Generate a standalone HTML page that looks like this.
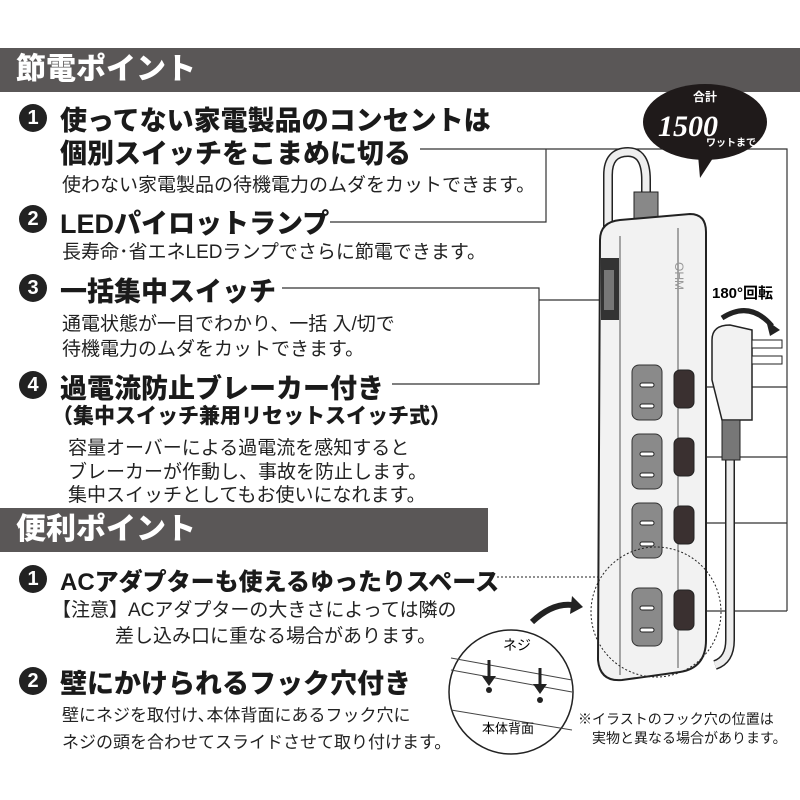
<!DOCTYPE html>
<html><head><meta charset="utf-8"><style>
body{margin:0;width:800px;height:800px;background:#fff;position:relative;overflow:hidden;font-family:"Liberation Sans","Noto Sans CJK JP",sans-serif;color:#1a1a1a}
.t{position:absolute;white-space:nowrap}
.h{position:absolute;background:#5a5757;color:#fff;font-weight:900;font-size:30px;padding-left:16px;box-sizing:border-box;line-height:44px}
.b{font-weight:900;font-size:27px}
.s{font-size:19px;color:#222}
.n{position:absolute;width:28px;height:28px;border-radius:50%;background:#222;color:#fff;font-weight:900;font-size:20px;text-align:center;line-height:28px}
svg{position:absolute;left:0;top:0}
</style></head><body>
<div class="h" style="left:0;top:48px;width:800px;height:44px">節電ポイント</div>
<div class="h" style="left:0;top:508px;width:488px;height:44px">便利ポイント</div>

<svg width="800" height="800">
<g stroke="#333" stroke-width="1.2" fill="none">
<path d="M420 149H787V611M546 149V222H330M787 387H690M787 457H690M787 523H690M787 611H690"/>
<path d="M282 288H539V384H392M539 300H605"/>
</g>
<path d="M497 577H600" stroke="#222" stroke-dasharray="2 2" fill="none"/>
<ellipse cx="705" cy="122" rx="62" ry="38" fill="#1f1a1a"/>
<path d="M698 155L700 178L715 155Z" fill="#1f1a1a"/>
<text x="705" y="101" fill="#fff" font-size="12" font-weight="bold" text-anchor="middle" font-family="Liberation Sans,Noto Sans CJK JP,sans-serif">合計</text>
<text x="658" y="136" fill="#fff" font-size="30" font-weight="bold" font-style="italic" font-family="Liberation Serif,serif">1500</text>
<text x="706" y="146" fill="#fff" font-size="10" font-weight="bold" font-family="Liberation Sans,Noto Sans CJK JP,sans-serif">ワットまで</text>
<path d="M608 240V175Q608 152 628 152Q646 152 646 180V200" stroke="#222" stroke-width="10" fill="none"/>
<path d="M608 240V175Q608 152 628 152Q646 152 646 180V200" stroke="#eee" stroke-width="7" fill="none"/>
<rect x="634" y="192" width="24" height="30" fill="#888" stroke="#222"/>
<path d="M600 240Q600 222 620 220L690 214Q706 214 706 232V640Q706 668 680 672L622 680Q600 682 598 660Z" fill="#f2f2f2" stroke="#222" stroke-width="2"/>
<path d="M620 236V675M678 228V668" stroke="#555" stroke-width="1" fill="none"/>
<rect x="601" y="258" width="18" height="62" fill="#333"/>
<rect x="604" y="270" width="10" height="40" fill="#777"/>
<text x="675" y="262" font-size="12" fill="#999" transform="rotate(90 675 262)">OHM</text>
<g fill="#8a8a8a" stroke="#333">
<rect x="632" y="365" width="30" height="55" rx="7"/><rect x="632" y="434" width="30" height="55" rx="7"/><rect x="632" y="503" width="30" height="55" rx="7"/><rect x="632" y="588" width="30" height="58" rx="7"/>
</g>
<g fill="#fff" stroke="#222"><rect x="640" y="383" width="14" height="4" rx="2"/><rect x="640" y="404" width="14" height="4" rx="2"/><rect x="640" y="452" width="14" height="4" rx="2"/><rect x="640" y="473" width="14" height="4" rx="2"/><rect x="640" y="521" width="14" height="4" rx="2"/><rect x="640" y="542" width="14" height="4" rx="2"/><rect x="640" y="606" width="14" height="4" rx="2"/><rect x="640" y="628" width="14" height="4" rx="2"/></g>
<g fill="#3a3030" stroke="#222"><rect x="674" y="370" width="20" height="38" rx="6"/><rect x="674" y="438" width="20" height="38" rx="6"/><rect x="674" y="506" width="20" height="38" rx="6"/><rect x="674" y="590" width="20" height="40" rx="6"/></g>
<path d="M730 380V640Q730 660 715 665" stroke="#222" stroke-width="10" fill="none"/>
<path d="M730 380V640Q730 660 715 665" stroke="#eee" stroke-width="7" fill="none"/>
<path d="M712 340Q712 325 730 325L752 330V420L722 420L712 380Z" fill="#f2f2f2" stroke="#222" stroke-width="1.5"/>
<rect x="722" y="420" width="18" height="40" fill="#777" stroke="#222"/>
<rect x="752" y="340" width="30" height="8" fill="#fff" stroke="#222"/><rect x="752" y="356" width="30" height="8" fill="#fff" stroke="#222"/>
<path d="M722 318Q750 300 772 326" stroke="#222" stroke-width="5" fill="none"/>
<path d="M766 320L780 330L770 336Z" fill="#222"/>
<text x="712" y="298" font-size="15" font-weight="bold" font-family="Liberation Sans,Noto Sans CJK JP,sans-serif">180°回転</text>
<circle cx="656" cy="612" r="65" stroke="#222" stroke-dasharray="2 2" fill="none"/>
<circle cx="511" cy="692" r="62" fill="#fff" stroke="#222" stroke-width="1.5"/>
<path d="M451 658L572 680M451 670L572 692M451 710L572 730" stroke="#444" fill="none"/>
<path d="M532 622Q555 600 578 606" stroke="#222" stroke-width="6" fill="none"/><path d="M572 596L583 607L570 614Z" fill="#222"/>
<text x="503" y="650" font-size="14" font-family="Liberation Sans,Noto Sans CJK JP,sans-serif">ネジ</text>
<path d="M489 660V678M540 668V686" stroke="#222" stroke-width="3"/><path d="M482 676L489 686L496 676ZM533 684L540 694L547 684Z" fill="#222"/>
<circle cx="489" cy="690" r="3" fill="#222"/><circle cx="540" cy="700" r="3" fill="#222"/>
<text x="482" y="733" font-size="13" font-family="Liberation Sans,Noto Sans CJK JP,sans-serif">本体背面</text>
</svg>

<div class="n" style="left:19px;top:104px">1</div>
<div class="t b" style="left:60px;top:99px">使ってない家電製品のコンセントは</div>
<div class="t b" style="left:60px;top:132px">個別スイッチをこまめに切る</div>
<div class="t s" style="left:62px;top:170px">使わない家電製品の待機電力のムダをカットできます。</div>
<div class="n" style="left:19px;top:205px">2</div>
<div class="t b" style="left:60px;top:202px">LEDパイロットランプ</div>
<div class="t s" style="left:62px;top:237px">長寿命･省エネLEDランプでさらに節電できます。</div>
<div class="n" style="left:19px;top:274px">3</div>
<div class="t b" style="left:60px;top:270px">一括集中スイッチ</div>
<div class="t s" style="left:62px;top:309px">通電状態が一目でわかり、一括 入/切で</div>
<div class="t s" style="left:62px;top:334px">待機電力のムダをカットできます。</div>
<div class="n" style="left:19px;top:371px">4</div>
<div class="t b" style="left:60px;top:367px">過電流防止ブレーカー付き</div>
<div class="t b" style="left:52px;top:400px;font-size:21px">（集中スイッチ兼用リセットスイッチ式）</div>
<div class="t s" style="left:68px;top:433px">容量オーバーによる過電流を感知すると</div>
<div class="t s" style="left:68px;top:457px">ブレーカーが作動し、事故を防止します。</div>
<div class="t s" style="left:68px;top:480px">集中スイッチとしてもお使いになれます。</div>

<div class="n" style="left:19px;top:565px">1</div>
<div class="t b" style="left:60px;top:562px;font-size:24px">ACアダプターも使えるゆったりスペース</div>
<div class="t s" style="left:52px;top:595px">【注意】ACアダプターの大きさによっては隣の</div>
<div class="t s" style="left:115px;top:621px">差し込み口に重なる場合があります。</div>
<div class="n" style="left:19px;top:667px">2</div>
<div class="t b" style="left:60px;top:662px">壁にかけられるフック穴付き</div>
<div class="t s" style="left:62px;top:701px;font-size:17px">壁にネジを取付け､本体背面にあるフック穴に</div>
<div class="t s" style="left:62px;top:728px;font-size:17px">ネジの頭を合わせてスライドさせて取り付けます。</div>
<div class="t" style="left:578px;top:709px;font-size:14px">※イラストのフック穴の位置は</div>
<div class="t" style="left:592px;top:728px;font-size:14px">実物と異なる場合があります。</div>
</body></html>
